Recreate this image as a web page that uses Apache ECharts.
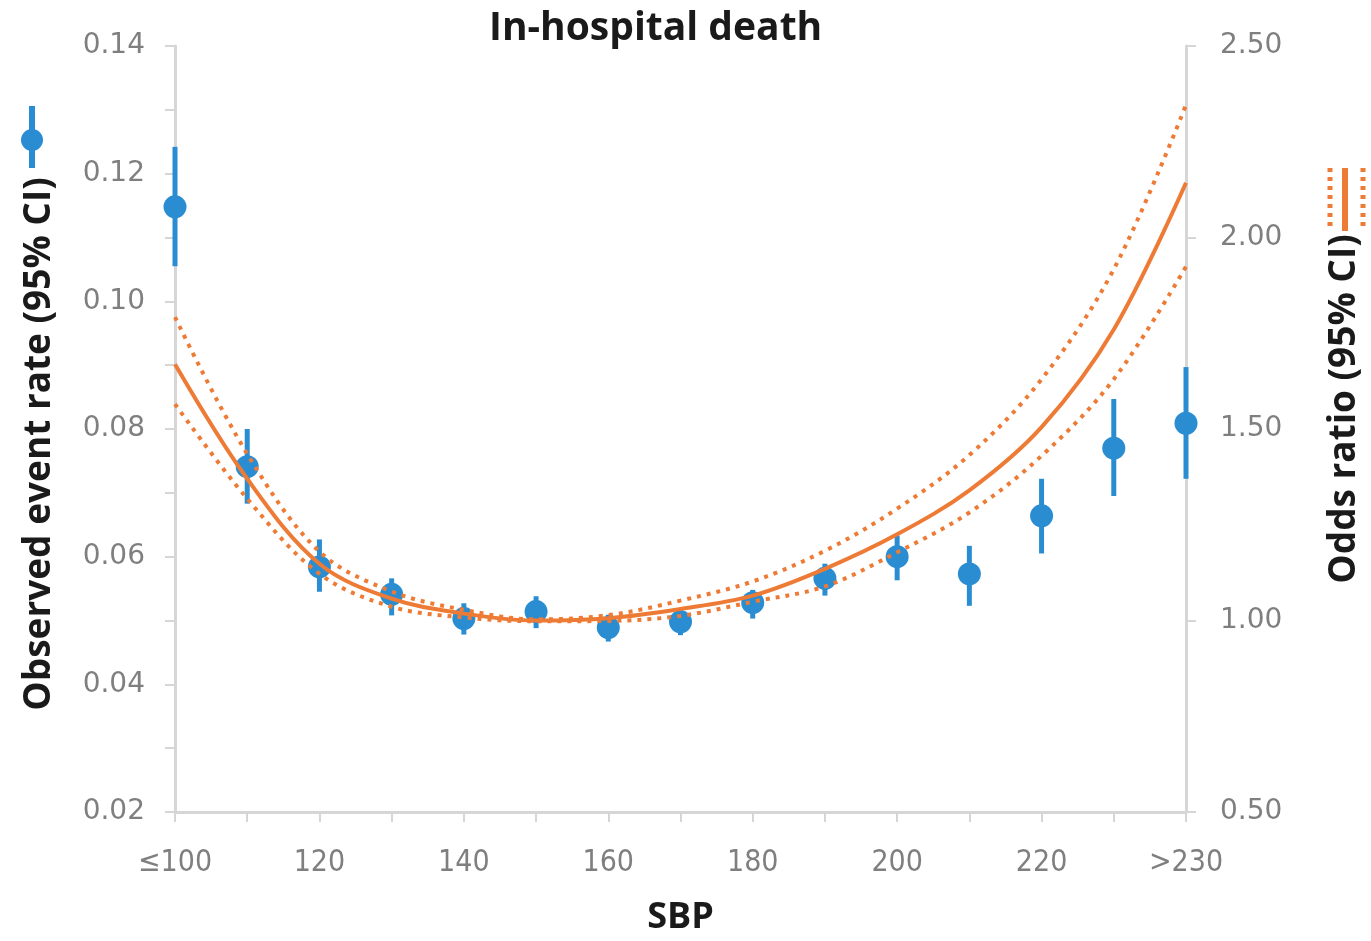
<!DOCTYPE html>
<html>
	<head>
		<meta charset="utf-8">
		<title>In-hospital death</title>
		<script src="https://cdn.jsdelivr.net/npm/echarts@6/dist/echarts.min.js" type="text/javascript"></script>
		<style type="text/css">
			html,body{margin: 0; padding: 0; background-color: #fff; overflow: hidden;}
			#main{width: 1371px; height: 941px;}
		</style>
	</head>
	<body>
		<div id="main"></div>
		<script type="text/javascript">
			// SBP 分组
			var categories = ['≤100', '110', '120', '130', '140', '150', '160', '170', '180', '190', '200', '210', '220', '230', '>230'];

			// 观察到的事件率及 95% CI（左轴）
			var eventRate = [0.1148, 0.0741, 0.0584, 0.0541, 0.0503, 0.0514, 0.0489, 0.0498, 0.0528, 0.0566, 0.0600, 0.0573, 0.0664, 0.0770, 0.0809];
			var rateLow   = [0.1055, 0.0683, 0.0545, 0.0508, 0.0478, 0.0488, 0.0467, 0.0477, 0.0503, 0.0539, 0.0563, 0.0523, 0.0605, 0.0695, 0.0722];
			var rateHigh  = [0.1242, 0.0800, 0.0627, 0.0566, 0.0527, 0.0538, 0.0509, 0.0519, 0.0548, 0.0589, 0.0633, 0.0617, 0.0722, 0.0847, 0.0897];

			// 比值比及 95% CI（右轴）
			var oddsRatio = [1.669, 1.370, 1.148, 1.057, 1.018, 1.000, 1.006, 1.030, 1.065, 1.135, 1.225, 1.340, 1.505, 1.760, 2.143];
			var orLow     = [1.565, 1.318, 1.122, 1.036, 1.008, 0.998, 0.999, 1.012, 1.049, 1.089, 1.178, 1.282, 1.430, 1.630, 1.924];
			var orHigh    = [1.792, 1.435, 1.180, 1.076, 1.028, 1.003, 1.014, 1.052, 1.102, 1.182, 1.292, 1.432, 1.630, 1.917, 2.346];

			var leftTicks = [0.02, 0.14, 0.02];
			var rightTicks = [0.5, 2.5, 0.5];

			var blue = '#2a8dd2';
			var orange = '#ee7b35';
			var grey = '#7f7f7f';
			var axisGrey = '#d6d6d6';

			var errData = categories.map(function (c, i) {
				return [i, rateLow[i], rateHigh[i]];
			});

			var myChart = echarts.init(document.getElementById('main'), null, {renderer: 'canvas', width: 1371, height: 941});

			var option = {
				animation: false,
				backgroundColor: '#fff',
				title: {
					text: 'In-hospital death',
					left: 484,
					top: 4,
					textStyle: {fontFamily: 'Open Sans', fontWeight: 'bold', fontSize: 39, color: '#1a1a1a'}
				},
				grid: {left: 175, right: 181, top: 46, bottom: 127},
				xAxis: {
					type: 'category',
					data: categories,
					boundaryGap: false,
					name: 'SBP',
					nameLocation: 'middle',
					nameGap: 88,
					nameTextStyle: {fontFamily: 'Open Sans', fontWeight: 'bold', fontSize: 36, color: '#1a1a1a'},
					axisLine: {lineStyle: {color: axisGrey, width: 3}},
					axisTick: {interval: 0, length: 10, lineStyle: {color: axisGrey, width: 2}},
					axisLabel: {interval: 1, margin: 36, fontFamily: 'DejaVu Sans Condensed', fontSize: 30, color: grey},
					splitLine: {show: false}
				},
				yAxis: [
					{
						type: 'value',
						min: leftTicks[0],
						max: leftTicks[1],
						interval: leftTicks[2],
						name: 'Observed event rate (95% CI)',
						nameLocation: 'middle',
						nameRotate: 90,
						nameGap: 117,
						nameTextStyle: {fontFamily: 'Open Sans', fontWeight: 'bold', fontSize: 37, color: '#1a1a1a', padding: [0, 30, 0, 0]},
						axisLine: {show: true, lineStyle: {color: axisGrey, width: 3}},
						axisTick: {show: true, length: 10, lineStyle: {color: axisGrey, width: 2}},
						minorTick: {show: true, splitNumber: 2, length: 10, lineStyle: {color: axisGrey, width: 2}},
						axisLabel: {margin: 30, fontFamily: 'DejaVu Sans', fontSize: 28, color: grey,
							formatter: function (v) { return v.toFixed(2); }},
						splitLine: {show: false}
					},
					{
						type: 'value',
						position: 'right',
						min: rightTicks[0],
						max: rightTicks[1],
						interval: rightTicks[2],
						name: 'Odds ratio (95% CI)',
						nameLocation: 'middle',
						nameRotate: 90,
						nameGap: 140,
						nameTextStyle: {fontFamily: 'Open Sans', fontWeight: 'bold', fontSize: 37, color: '#1a1a1a', padding: [0, 0, 0, 40]},
						axisLine: {show: true, lineStyle: {color: axisGrey, width: 3}},
						axisTick: {show: true, length: 10, lineStyle: {color: axisGrey, width: 2}},
						axisLabel: {margin: 34, fontFamily: 'DejaVu Sans', fontSize: 28, color: grey,
							formatter: function (v) { return v.toFixed(2); }},
						splitLine: {show: false}
					}
				],
				series: [
					{
						name: 'CI',
						type: 'custom',
						yAxisIndex: 0,
						data: errData,
						z: 2,
						renderItem: function (params, api) {
							var p1 = api.coord([api.value(0), api.value(1)]);
							var p2 = api.coord([api.value(0), api.value(2)]);
							return {
								type: 'line',
								shape: {x1: p1[0], y1: p1[1], x2: p2[0], y2: p2[1]},
								style: {stroke: blue, lineWidth: 5}
							};
						}
					},
					{
						name: 'Observed',
						type: 'scatter',
						yAxisIndex: 0,
						data: eventRate,
						symbolSize: 23,
						itemStyle: {color: blue, opacity: 1},
						z: 3
					},
					{
						name: 'OR low',
						type: 'line',
						yAxisIndex: 1,
						data: orLow,
						smooth: 0.35,
						symbol: 'none',
						lineStyle: {color: orange, width: 4, type: [4, 6]},
						z: 4
					},
					{
						name: 'OR high',
						type: 'line',
						yAxisIndex: 1,
						data: orHigh,
						smooth: 0.35,
						symbol: 'none',
						lineStyle: {color: orange, width: 4, type: [4, 6]},
						z: 4
					},
					{
						name: 'OR',
						type: 'line',
						yAxisIndex: 1,
						data: oddsRatio,
						smooth: 0.35,
						symbol: 'none',
						lineStyle: {color: orange, width: 4},
						z: 5
					}
				],
				// 轴名旁边的小图例
				graphic: [
					{type: 'line', shape: {x1: 32, y1: 106, x2: 32, y2: 168}, style: {stroke: blue, lineWidth: 6}},
					{type: 'circle', shape: {cx: 32, cy: 140, r: 11}, style: {fill: blue}},
					{type: 'line', shape: {x1: 1345, y1: 168, x2: 1345, y2: 231}, style: {stroke: orange, lineWidth: 6}},
					{type: 'line', shape: {x1: 1330, y1: 168, x2: 1330, y2: 231}, style: {stroke: orange, lineWidth: 5, lineDash: [4, 5]}},
					{type: 'line', shape: {x1: 1363, y1: 168, x2: 1363, y2: 231}, style: {stroke: orange, lineWidth: 5, lineDash: [4, 5]}}
				]
			};

			myChart.setOption(option);
		</script>
	</body>
</html>
